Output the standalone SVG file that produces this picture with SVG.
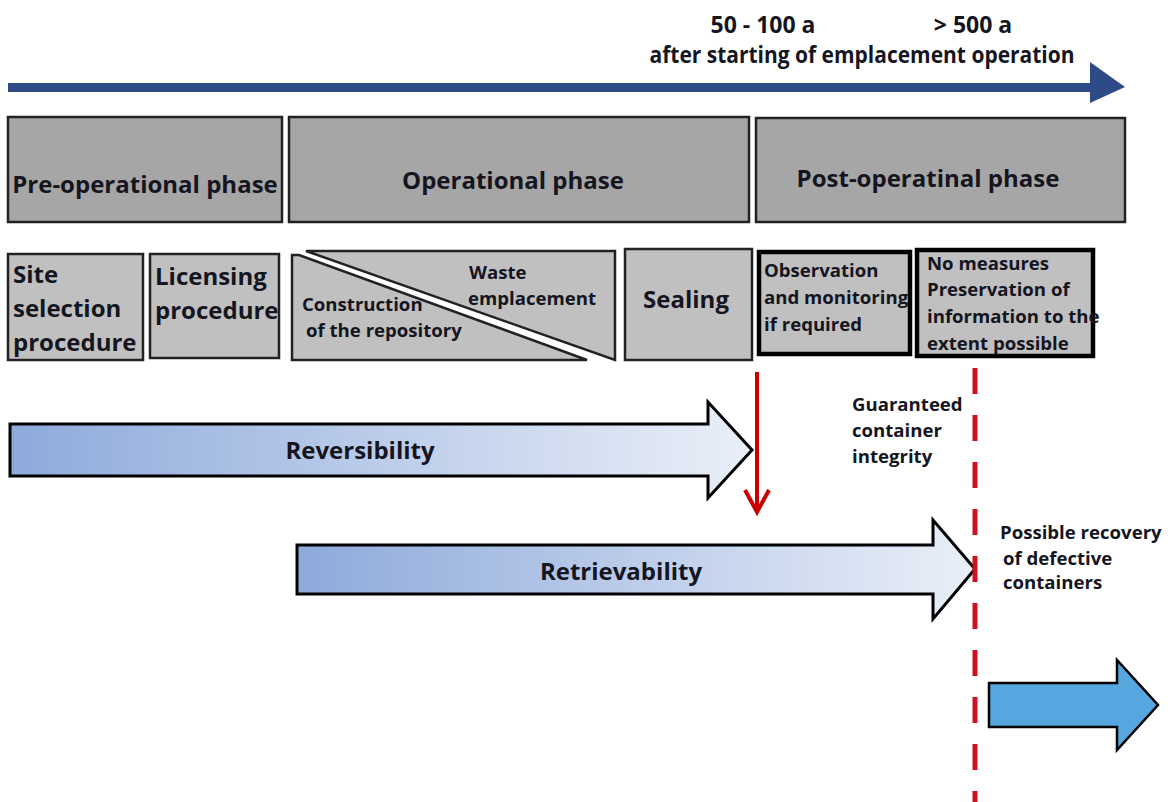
<svg xmlns="http://www.w3.org/2000/svg" width="1168" height="802" viewBox="0 0 1168 802">
<defs>
<linearGradient id="gBlue" x1="0" y1="0" x2="1" y2="0">
<stop offset="0" stop-color="#8eaadb"/>
<stop offset="1" stop-color="#eaeff8"/>
</linearGradient>
<style>
text{font-family:"Open Sans",Lato,"Liberation Sans",sans-serif;font-weight:bold;fill:#15151f}
.phase{fill:#a6a6a6;stroke:#222;stroke-width:2.5}
.step{fill:#c0c0c0;stroke:#222;stroke-width:2.5}
.thick{fill:#c0c0c0;stroke:#000;stroke-width:4.5}
.big{font-size:24px}
.mid{font-size:23px}
.sm{font-size:18.6px}
.bar{fill:url(#gBlue);stroke:#000;stroke-width:3}
</style>
</defs>
<rect width="1168" height="802" fill="#fff"/>

<g id="timeline">
<rect x="8" y="83" width="1084" height="9" fill="#2f4b87"/>
<polygon points="1090,62 1125,87 1090,103" fill="#2f4b87"/>
<text x="763" y="33" class="mid" text-anchor="middle">50 - 100 a</text>
<text x="973" y="33" class="mid" text-anchor="middle">&gt; 500 a</text>
<text x="862" y="63" class="mid" font-size="21" text-anchor="middle" textLength="425" lengthAdjust="spacingAndGlyphs">after starting of emplacement operation</text>
</g>

<g id="pre-operational">
<rect x="8" y="117" width="274" height="105" class="phase"/>
<text x="145" y="193" class="big" text-anchor="middle">Pre-operational phase</text>
</g>
<g id="operational">
<rect x="289" y="117" width="460" height="105" class="phase"/>
<text x="513" y="189" class="big" text-anchor="middle">Operational phase</text>
</g>
<g id="post-operational">
<rect x="756" y="118" width="369" height="104" class="phase"/>
<text x="928" y="187" class="big" text-anchor="middle">Post-operatinal phase</text>
</g>

<g id="site-selection">
<rect x="8" y="254" width="135" height="106" class="step"/>
<text x="13" y="283" class="big">Site</text>
<text x="13" y="317" class="big">selection</text>
<text x="13" y="351" class="big">procedure</text>
</g>
<g id="licensing">
<rect x="150" y="254" width="129" height="104" class="step"/>
<text x="155" y="285" class="big">Licensing</text>
<text x="155" y="319" class="big">procedure</text>
</g>
<g id="construction-emplacement">
<polygon points="292,255 299,255 587,360 292,360" class="step"/>
<polygon points="306,251 615,251 615,360" class="step"/>
<text x="302" y="311" class="sm">Construction</text>
<text x="306" y="337" class="sm">of the repository</text>
<text x="469" y="279" class="sm">Waste</text>
<text x="468" y="305" class="sm" font-size="19.5">emplacement</text>
</g>
<g id="sealing">
<rect x="625" y="249" width="127" height="111" class="step"/>
<text x="686" y="308" class="big" text-anchor="middle">Sealing</text>
</g>
<g id="observation">
<rect x="759" y="252" width="151" height="102" class="thick"/>
<text x="764" y="277" class="sm">Observation</text>
<text x="764" y="304" class="sm">and monitoring</text>
<text x="764" y="331" class="sm">if required</text>
</g>
<g id="no-measures">
<rect x="917" y="250" width="176" height="106" class="thick"/>
<text x="927" y="270" class="sm">No measures</text>
<text x="927" y="296" class="sm">Preservation of</text>
<text x="927" y="323" class="sm">information to the</text>
<text x="927" y="350" class="sm">extent possible</text>
</g>

<g id="reversibility">
<polygon points="10,424 708,424 708,402 752,450 708,498 708,476 10,476" class="bar"/>
<text x="360" y="459" class="big" text-anchor="middle">Reversibility</text>
</g>
<g id="retrievability">
<polygon points="297,545 933,545 933,520 975,569 933,619 933,594 297,594" class="bar"/>
<text x="621" y="580" class="big" text-anchor="middle">Retrievability</text>
</g>
<g id="disposal-arrow">
<polygon points="989,683 1117,683 1117,660 1158,705 1117,750 1117,727 989,727" fill="#56a6e0" stroke="#000" stroke-width="2.5"/>
</g>

<g id="labels">
<text x="852" y="411" class="sm">Guaranteed</text>
<text x="852" y="437" class="sm">container</text>
<text x="852" y="463" class="sm">integrity</text>
<text x="1000" y="539" class="sm">Possible recovery</text>
<text x="1003" y="565" class="sm">of defective</text>
<text x="1003" y="589" class="sm">containers</text>
</g>

<g id="connectors">
<line x1="757" y1="372" x2="757" y2="512" stroke="#cc0000" stroke-width="4"/>
<polyline points="745,490 757,512 769,490" fill="none" stroke="#cc0000" stroke-width="4"/>
<line x1="975" y1="368" x2="975" y2="802" stroke="#d01020" stroke-width="5" stroke-dasharray="26,21"/>
</g>
</svg>
